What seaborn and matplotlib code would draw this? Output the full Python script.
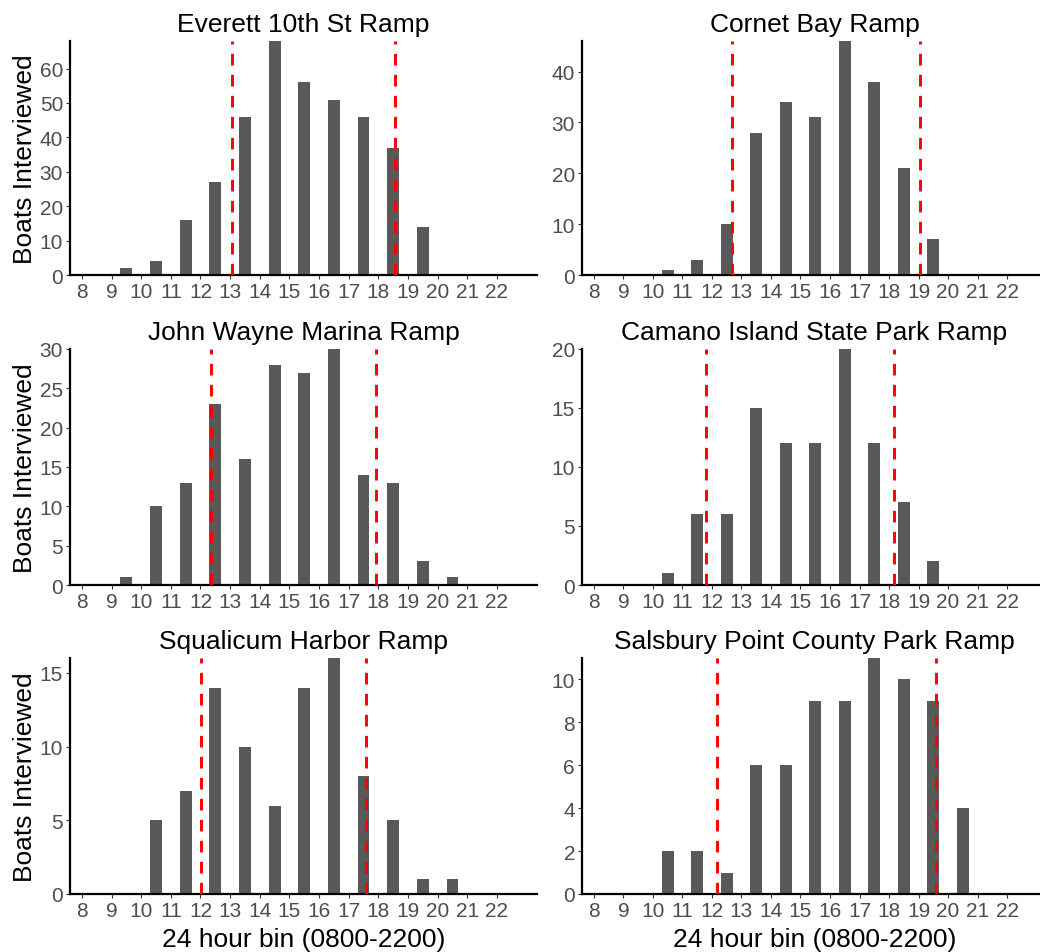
import numpy as np
import pandas as pd
import seaborn as sns
import matplotlib
matplotlib.use("Agg")
import matplotlib.pyplot as plt

# Hour bins (start of hour) 0800-2200
hours = list(range(8, 23))

# Boats interviewed per hour bin, one list per ramp
everett = [0, 2, 4, 16, 27, 46, 68, 56, 51, 46, 37, 14, 0, 0, 0]
cornet = [0, 0, 1, 3, 10, 28, 34, 31, 46, 38, 21, 7, 0, 0, 0]
john_wayne = [0, 1, 10, 13, 23, 16, 28, 27, 30, 14, 13, 3, 1, 0, 0]
camano = [0, 0, 1, 6, 6, 15, 12, 12, 20, 12, 7, 2, 0, 0, 0]
squalicum = [0, 0, 5, 7, 14, 10, 6, 14, 16, 8, 5, 1, 1, 0, 0]
salsbury = [0, 0, 2, 2, 1, 6, 6, 9, 9, 11, 10, 9, 4, 0, 0]

ramp_names = ["Everett 10th St Ramp", "Cornet Bay Ramp",
              "John Wayne Marina Ramp", "Camano Island State Park Ramp",
              "Squalicum Harbor Ramp", "Salsbury Point County Park Ramp"]
ramp_counts = [everett, cornet, john_wayne, camano, squalicum, salsbury]

# Red dashed lines (start / end of peak window)
window_start = [13.08, 12.69, 12.36, 11.79, 12.01, 12.18]
window_end = [18.55, 19.05, 17.93, 18.18, 17.58, 19.59]

# y tick step per panel
y_steps = [10, 10, 5, 5, 5, 2]

sns.set_style("ticks")
plt.rcParams['font.family'] = ['Liberation Sans', 'DejaVu Sans']
plt.rcParams['text.color'] = 'black'
plt.rcParams['axes.labelcolor'] = 'black'

fig = plt.figure(figsize=(10.4, 9.53), dpi=100)
W, H = 1040, 953

# panel boxes in pixels: (left, top, right, bottom)
col_x = [(70, 537), (582, 1047)]
row_y = [(42, 276), (350, 586), (659, 895)]

for i, (name, counts) in enumerate(zip(ramp_names, ramp_counts)):
    r, c = divmod(i, 2)
    x0, x1 = col_x[c]
    y0, y1 = row_y[r]
    ax = fig.add_axes([x0 / W, 1 - y1 / H, (x1 - x0) / W, (y1 - y0) / H])

    df = pd.DataFrame({"hour": np.array(hours) + 0.5, "boats": counts})
    sns.barplot(data=df, x="hour", y="boats", native_scale=True, width=0.4,
                color="#595959", saturation=1, errorbar=None, ax=ax,
                linewidth=0, zorder=2)

    ax.axvline(window_start[i], color="red", lw=2.1, ls=(0, (4, 3.2)), zorder=3)
    ax.axvline(window_end[i], color="red", lw=2.1, ls=(0, (4, 3.2)), zorder=3)

    ax.set_xlim(7.6, 23.35)
    ymax = max(counts)
    ax.set_ylim(0, ymax)
    ax.set_xticks(hours)
    ax.set_xticklabels([str(h) for h in hours])
    ax.set_yticks(np.arange(0, ymax + 0.01, y_steps[i]))

    sns.despine(ax=ax)
    for side in ["left", "bottom"]:
        ax.spines[side].set_linewidth(1.6)
        ax.spines[side].set_color("black")
    ax.tick_params(axis="both", labelsize=15, colors="#333333", length=3,
                   width=0.8, pad=2)
    ax.tick_params(axis="both", labelcolor="#4D4D4D")

    ax.set_title(name, fontsize=19, pad=7, color="black")
    ax.set_xlabel("24 hour bin (0800-2200)" if r == 2 else "", fontsize=19,
                  labelpad=5)
    ax.set_ylabel("Boats Interviewed" if c == 0 else "", fontsize=19,
                  labelpad=2)

fig.savefig("out.png", dpi=100)
